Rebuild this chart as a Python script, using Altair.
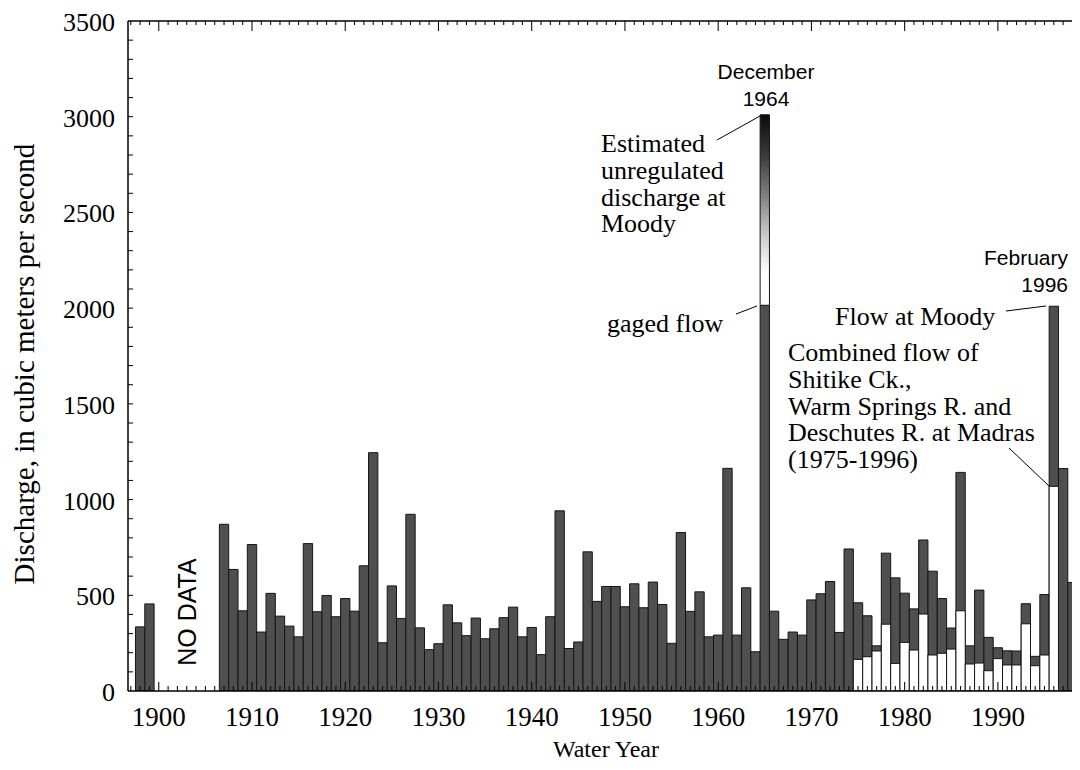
import altair as alt
import pandas as pd

# ---------------- data ----------------
years = [1898, 1899] + list(range(1907, 1999))
moody_peak = [
    335, 455,                                   # 1898-1899
    871, 635, 419, 765, 308, 510, 391, 339,     # 1907-1914
    283, 770, 414, 499, 388, 483, 417, 654,     # 1915-1922
    1245, 252, 549, 379, 923, 330, 216, 247,    # 1923-1930
    450, 356, 289, 381, 273, 325, 383, 438,     # 1931-1938
    283, 332, 190, 388, 941, 222, 256, 727,     # 1939-1946
    468, 546, 546, 440, 560, 435, 569, 452,     # 1947-1954
    249, 828, 416, 518, 283, 292, 1163, 292,    # 1955-1962
    539, 205, 2015, 417, 270, 308, 292, 476,    # 1963-1970
    508, 572, 306, 742, 461, 393, 236, 720,     # 1971-1978
    591, 511, 429, 789, 626, 483, 329, 1142,    # 1979-1986
    236, 527, 280, 226, 210, 209, 456, 181,     # 1987-1994
    504, 2010, 1162, 567,                       # 1995-1998
]
madras_years = list(range(1975, 1997))
madras_peak = [
    165, 179, 209, 349, 144, 254, 214, 402,     # 1975-1982
    188, 197, 219, 419, 141, 146, 106, 169,     # 1983-1990
    136, 136, 351, 132, 188, 1069,              # 1991-1996
]
est_year = [1965]
est_gaged = [2015]
est_unregulated = [3010]

x_labels = list(range(1900, 2000, 10))
y_labels = list(range(0, 3501, 500))
tick_years = list(range(1897, 1999))
q_ticks = list(range(100, 3500, 100))

# ---------------- tables ----------------
df_moody = pd.DataFrame({"year": years, "q": moody_peak})
df_madras = pd.DataFrame({"year": madras_years, "q": madras_peak})
df_est = pd.DataFrame({"year": est_year, "lo": est_gaged, "hi": est_unregulated})
df_xlab = pd.DataFrame({"year": x_labels, "label": [str(v) for v in x_labels]})
df_ylab = pd.DataFrame({"q": y_labels, "label": [str(v) for v in y_labels]})

df_bottom_ticks = pd.DataFrame({
    "year": tick_years,
    "y0": [0] * len(tick_years),
    "y1": [47 if y % 10 == 0 else 26 for y in tick_years],
})
df_top_ticks = pd.DataFrame({
    "year": tick_years,
    "y0": [3500] * len(tick_years),
    "y1": [3500 - (52 if y % 10 == 0 else 21) for y in tick_years],
})
df_left_ticks = pd.DataFrame({"q": q_ticks})

W, H = 944, 670
XDOM = [1896.7, 1997.95]
xscale = alt.Scale(domain=XDOM, nice=False, zero=False)
yscale = alt.Scale(domain=[0, 3500], nice=False)

SERIF = "Liberation Serif"
SANS = "Liberation Sans"

DARK = "#4f4f4f"
EDGE = "#151515"


def X(field):
    return alt.X(field, scale=xscale, axis=None)


def Y(field):
    return alt.Y(field, scale=yscale, axis=None)


# ---------------- bars ----------------
bars = alt.Chart(df_moody).transform_calculate(
    x0="datum.year - 0.5", x1="datum.year + 0.5"
).mark_bar(fill=DARK, stroke=EDGE, strokeWidth=1, clip=True).encode(
    x=X("x0:Q"), x2="x1:Q", y=Y("q:Q"), y2=alt.datum(0),
)

est = alt.Chart(df_est).transform_calculate(
    x0="datum.year - 0.5", x1="datum.year + 0.5"
).mark_bar(
    fill=alt.LinearGradient(
        gradient="linear", x1=0, x2=0, y1=1, y2=0,
        stops=[alt.GradientStop(offset=0, color="#ffffff"),
               alt.GradientStop(offset=0.18, color="#fbfbfb"),
               alt.GradientStop(offset=0.35, color="#d0d0d0"),
               alt.GradientStop(offset=0.55, color="#8a8a8a"),
               alt.GradientStop(offset=0.78, color="#3c3c3c"),
               alt.GradientStop(offset=1, color="#0a0a0a")]),
    stroke=EDGE, strokeWidth=1, clip=True,
).encode(x=X("x0:Q"), x2="x1:Q", y=Y("hi:Q"), y2="lo:Q")

madras = alt.Chart(df_madras).transform_calculate(
    x0="datum.year - 0.5", x1="datum.year + 0.5"
).mark_bar(fill="white", stroke=EDGE, strokeWidth=1, clip=True).encode(
    x=X("x0:Q"), x2="x1:Q", y=Y("q:Q"), y2=alt.datum(0),
)

# ---------------- frame: inward ticks drawn as hairline bars ----------------
bottom_ticks = alt.Chart(df_bottom_ticks).transform_calculate(
    t0="datum.year - 0.055", t1="datum.year + 0.055"
).mark_bar(fill="black", strokeWidth=0, clip=True).encode(
    x=X("t0:Q"), x2="t1:Q", y=Y("y0:Q"), y2="y1:Q",
)
top_ticks = alt.Chart(df_top_ticks).transform_calculate(
    t0="datum.year - 0.055", t1="datum.year + 0.055"
).mark_bar(fill="black", strokeWidth=0, clip=True).encode(
    x=X("t0:Q"), x2="t1:Q", y=Y("y0:Q"), y2="y1:Q",
)
left_ticks = alt.Chart(df_left_ticks).transform_calculate(
    q0="datum.q - 2.6", q1="datum.q + 2.6"
).mark_bar(fill="black", strokeWidth=0).encode(
    x=alt.value(0), x2=alt.value(5), y=Y("q0:Q"), y2="q1:Q",
)

one = alt.Data(values=[{}])


def hline(y):
    return alt.Chart(one).mark_rule(color="black", strokeWidth=1.5).encode(
        x=alt.value(0), x2=alt.value(W), y=alt.value(y))


left_line = alt.Chart(one).mark_rule(color="black", strokeWidth=1.5).encode(
    x=alt.value(0), y=alt.value(0), y2=alt.value(H))

# ---------------- tick labels and axis titles ----------------
x_tick_labels = alt.Chart(df_xlab).mark_text(
    font=SERIF, fontSize=27, color="black", baseline="top", align="center"
).encode(x=X("year:Q"), y=alt.value(H + 14), text="label:N")

y_tick_labels = alt.Chart(df_ylab).mark_text(
    font=SERIF, fontSize=26, color="black", baseline="middle", align="right", dy=2
).encode(x=alt.value(-13), y=Y("q:Q"), text="label:N")


def note(lines, x, y, align="left", font=SERIF, size=26, angle=0, baseline="alphabetic"):
    kw = dict(align=align, baseline=baseline, font=font, fontSize=size,
              color="black", lineHeight=26.8)
    if angle:
        kw["angle"] = angle
    return alt.Chart(one).mark_text(**kw).encode(
        x=alt.value(x), y=alt.value(y), text=alt.value(lines))


def leader(xa, ya, xb, yb):
    return alt.Chart(one).mark_rule(color="black", strokeWidth=1).encode(
        x=alt.value(xa), y=alt.value(ya), x2=alt.value(xb), y2=alt.value(yb))


titles = [
    note("Water Year", W / 2 + 6, H + 66, align="center", size=24),
    note("Discharge, in cubic meters per second", -103, H / 2 + 8,
         align="center", size=29, angle=270, baseline="middle"),
]

# ---------------- annotations ----------------
notes = [
    note(["December", "1964"], 638, 58, align="center", font=SANS, size=21),
    note(["Estimated", "unregulated", "discharge at", "Moody"], 473, 131),
    leader(589, 119, 632, 95),
    note(["gaged flow"], 479, 311),
    leader(608, 293, 629, 285),
    note(["February", "1996"], 940, 244, align="right", font=SANS, size=21),
    note(["Flow at Moody"], 707, 304),
    leader(878, 290, 918, 285),
    note(["Combined flow of", "Shitike Ck.,", "Warm Springs R. and",
          "Deschutes R. at Madras", "(1975-1996)"], 660, 340),
    leader(881, 427, 921, 465),
    note(["NO DATA"], 60, 591, align="center", font=SANS, size=25, angle=270,
         baseline="middle"),
]

chart = alt.layer(
    bars, est, madras, bottom_ticks, top_ticks, left_ticks,
    hline(0), hline(H), left_line,
    x_tick_labels, y_tick_labels, *titles, *notes
).properties(
    width=W, height=H,
    padding={"left": 120, "top": 13, "right": 0, "bottom": 71},
    autosize=alt.AutoSizeParams(type="none"),
    background="white",
).configure_view(strokeWidth=0)

chart.save("out.html", embed_options={"renderer": "svg", "actions": False})
